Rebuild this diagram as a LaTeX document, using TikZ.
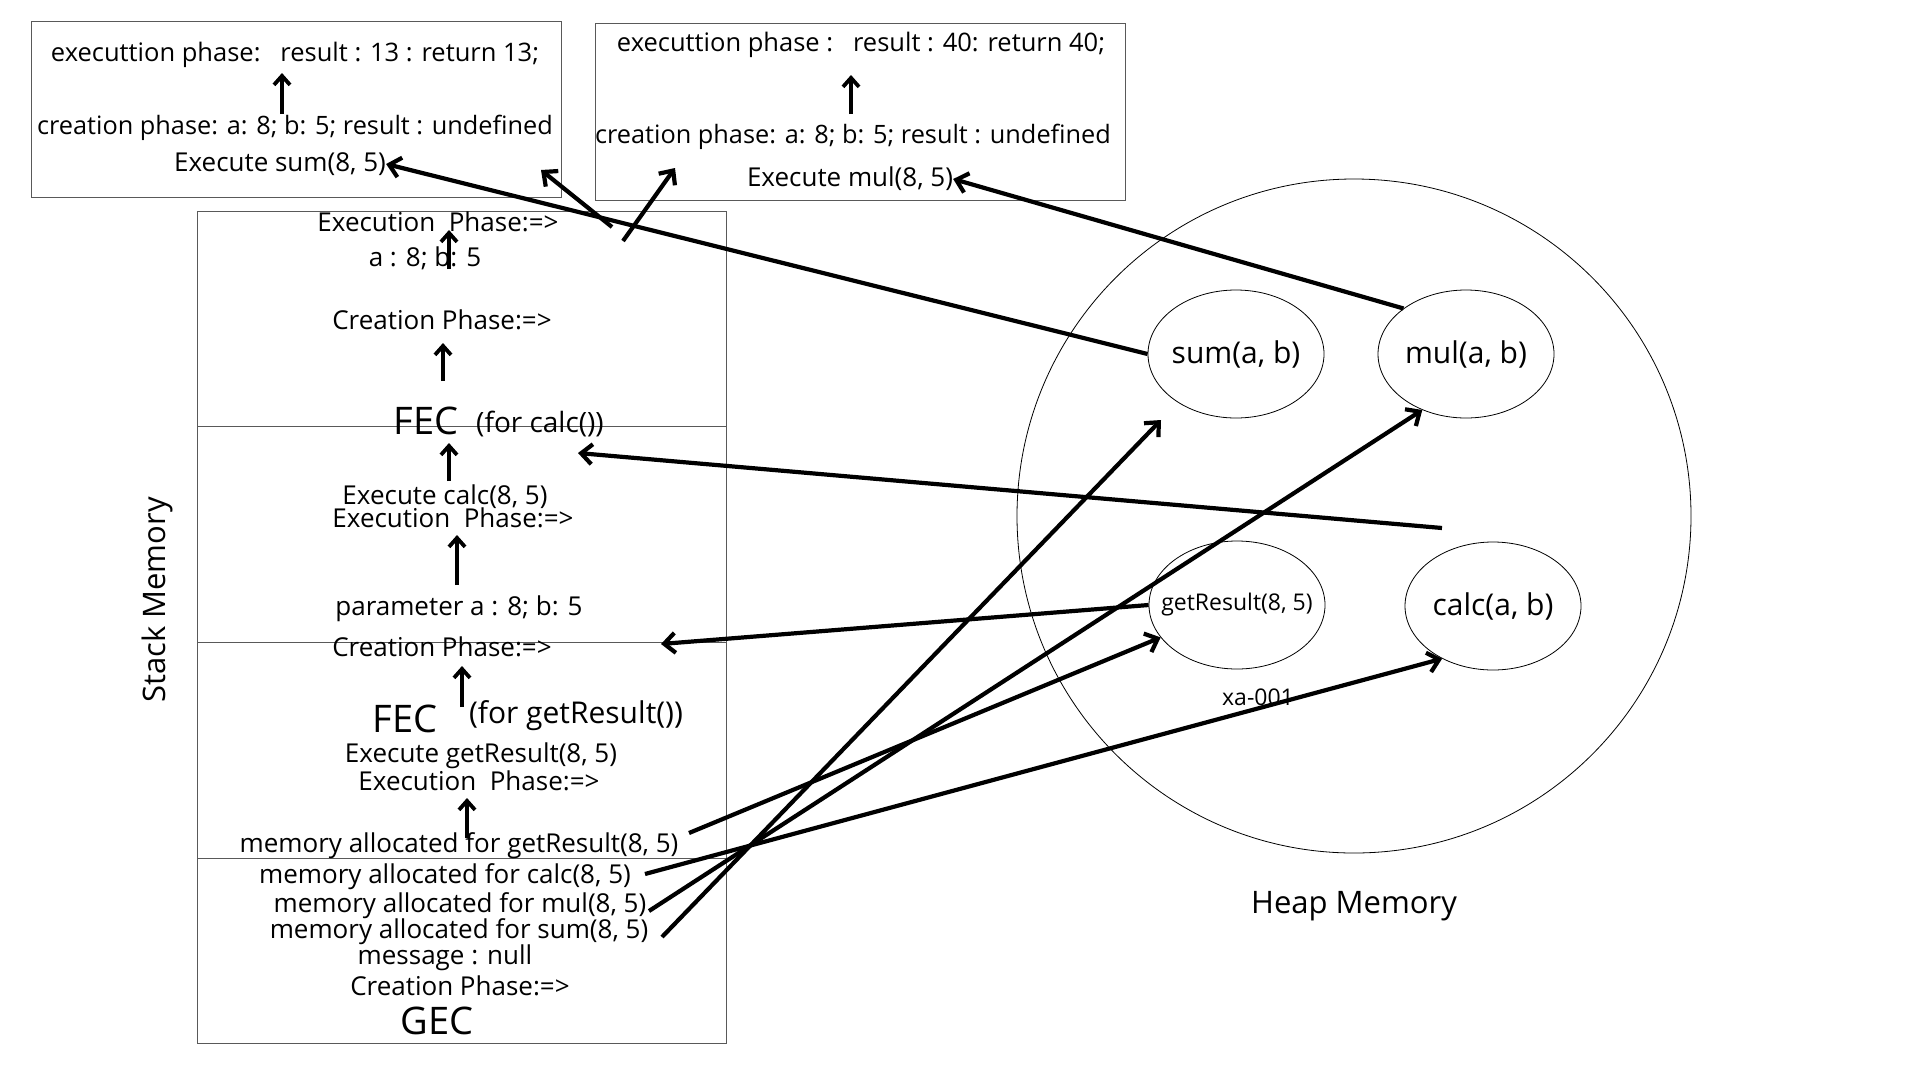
\documentclass[tikz,border=0pt]{standalone}
\usepackage{fontspec}
\setmainfont{Open Sans}
\usetikzlibrary{positioning}
\usetikzlibrary{shapes.geometric}
\usetikzlibrary{arrows.meta}

\begin{document}
\begin{tikzpicture}[
x=1pt, y=-1pt,
txt/.style={inner sep=0pt, font=\fontsize{26}{30}\selectfont},
bigtxt/.style={inner sep=0pt, font=\fontsize{38}{44}\selectfont},
heapobj/.style={ellipse, draw, line width=0.8pt, minimum width=176pt, minimum height=128pt, inner sep=0pt, inner xsep=-8pt, font=\fontsize{30}{34}\selectfont},
panel/.style={draw=black!65, line width=1pt},
stepline/.style={line width=3.8pt, -{Straight Barb[length=9pt, width=16pt]}},
pointer/.style={line width=4.2pt, -{Straight Barb[length=11pt, width=20pt]}}
]

% page
\fill[white] (0,0) rectangle (1920,1080);
\useasboundingbox (0,0) rectangle (1920,1080);

% frames
\draw[panel] (31,21) rectangle (561,197);
\draw[panel] (595,23) rectangle (1125,200);
\draw[panel] (197,211) rectangle (726,1043);
\draw[panel] (197,426) -- (726,426);
\draw[panel] (197,642) -- (726,642);
\draw[panel] (197,858) -- (726,858);
\draw[line width=0.8pt] (1354,516) circle[radius=337pt];

% sum(8, 5) frame
\node[txt, font=\fontsize{25.5}{30}\selectfont] (ex1) at (295,55) {executtion phase:\ \ \ result : 13 : return 13;};
\node[txt, font=\fontsize{25.3}{30}\selectfont] (cr1) at (295,128) {creation phase: a: 8; b: 5; result : undefined};
\node[txt] (callsum) at (280,164) {Execute sum(8, 5)};

% mul(8, 5) frame
\node[txt, font=\fontsize{25.5}{30}\selectfont] (ex2) at (861,45) {executtion phase :\ \ \ result : 40: return 40;};
\node[txt, font=\fontsize{25.3}{30}\selectfont] (cr2) at (853,137) {creation phase: a: 8; b: 5; result : undefined};
\node[txt] (callmul) at (850,179) {Execute mul(8, 5)};

% FEC for calc()
\node[txt] (excalc) at (438,222) {Execution\ \ Phase:=>};
\node[txt] (argcalc) at (425,258) {a : 8; b: 5};
\node[txt] (crcalc) at (442,320) {Creation Phase:=>};
\node[bigtxt] (fec1) at (426,421) {FEC};
\node[txt, font=\fontsize{28}{32}\selectfont] (fec1for) at (540,424) {(for calc())};

% FEC for getResult()
\node[txt] (callcalc) at (445,497) {Execute calc(8, 5)};
\node[txt] (exget) at (453,518) {Execution\ \ Phase:=>};
\node[txt] (argget) at (459,609) {parameter a : 8; b: 5};
\node[txt] (crget) at (442,647) {Creation Phase:=>};
\node[bigtxt] (fec2) at (405,719) {FEC};
\node[txt, font=\fontsize{30}{34}\selectfont] (fec2for) at (576,716) {(for getResult())};

% GEC
\node[txt] (callget) at (481,756) {Execute getResult(8, 5)};
\node[txt] (exgec) at (479,781) {Execution\ \ Phase:=>};
\node[txt] (memget) at (459,846) {memory allocated for getResult(8, 5)};
\node[txt] (memcalc) at (445,877) {memory allocated for calc(8, 5)};
\node[txt] (memmul) at (460,906) {memory allocated for mul(8, 5)};
\node[txt] (memsum) at (459,932) {memory allocated for sum(8, 5)};
\node[txt] (msg) at (445,958) {message : null};
\node[txt] (crgec) at (460,986) {Creation Phase:=>};
\node[bigtxt] (gec) at (437,1021) {GEC};

\node[txt, font=\fontsize{31}{36}\selectfont, rotate=90] (stack) at (157,600) {Stack Memory};

% heap
\node[heapobj] (sum) at (1236,354) {sum(a, b)};
\node[heapobj] (mul) at (1466,354) {mul(a, b)};
\node[heapobj, inner xsep=-16pt, font=\fontsize{23}{26}\selectfont] (getres) at (1237,605) {getResult(8, 5)};
\node[heapobj] (calc) at (1493,606) {calc(a, b)};
\node[txt, font=\fontsize{23}{26}\selectfont] (addr) at (1258,697) {xa-001};
\node[txt, font=\fontsize{31}{36}\selectfont] (heap) at (1354,906) {Heap Memory};

% step arrows
\coordinate (s1a) at (282,114);
\coordinate (s1b) at (282,73);
\coordinate (s2a) at (851,114);
\coordinate (s2b) at (851,75);
\coordinate (s3a) at (449,269);
\coordinate (s3b) at (449,230);
\coordinate (s4a) at (443,381);
\coordinate (s4b) at (443,343);
\coordinate (s5a) at (449,481);
\coordinate (s5b) at (449,443);
\coordinate (s6a) at (457,585);
\coordinate (s6b) at (457,535);
\coordinate (s7a) at (462,707);
\coordinate (s7b) at (462,666);
\coordinate (s8a) at (467,838);
\coordinate (s8b) at (467,798);
\draw[stepline] (s1a) -- (s1b);
\draw[stepline] (s2a) -- (s2b);
\draw[stepline] (s3a) -- (s3b);
\draw[stepline] (s4a) -- (s4b);
\draw[stepline] (s5a) -- (s5b);
\draw[stepline] (s6a) -- (s6b);
\draw[stepline] (s7a) -- (s7b);
\draw[stepline] (s8a) -- (s8b);

% pointers
\coordinate (r1a) at (612,227);
\coordinate (r1b) at (541,170);
\coordinate (r2a) at (623,241);
\coordinate (r2b) at (675,168);
\coordinate (calcref) at (1442,528);
\coordinate (fec1ref) at (578,453);
\coordinate (crgetref) at (661,644);
\coordinate (getfrom) at (689,833);
\coordinate (calcfrom) at (645,874);
\coordinate (mulfrom) at (649,911);
\coordinate (sumfrom) at (662,937);
\coordinate (sumto) at (1161,420);

\draw[pointer] (sum.west) -- (callsum.east);
\draw[pointer] (mul.north west) -- (callmul.east);
\draw[pointer] (r1a) -- (r1b);
\draw[pointer] (r2a) -- (r2b);
\draw[pointer] (calcref) -- (fec1ref);
\draw[pointer] (getres.west) -- (crgetref);
\draw[pointer] (getfrom) -- (getres.203);
\draw[pointer] (calcfrom) -- (calc.226);
\draw[pointer] (mulfrom) -- (mul.232);
\draw[pointer] (sumfrom) -- (sumto);

\end{tikzpicture}
\end{document}
